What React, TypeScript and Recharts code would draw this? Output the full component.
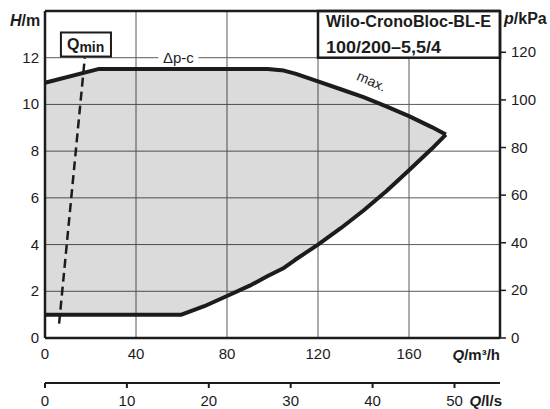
import React from "react";
import {
  ComposedChart,
  Area,
  XAxis,
  YAxis,
  CartesianGrid,
  ReferenceLine,
  ReferenceArea,
  ReferenceDot,
  Customized,
} from "recharts";

// pump field (Q in m³/h, H in m)
const flowM3h = [0, 23.8, 40, 60, 70, 80, 90, 97.9, 105, 110, 120, 130, 140, 150, 160, 170, 176.2];
const headMax = [10.93, 11.52, 11.52, 11.52, 11.52, 11.52, 11.52, 11.52, 11.45, 11.32, 10.99, 10.65, 10.31, 9.92, 9.5, 9.03, 8.71];
const headMin = [1, 1, 1, 1, 1.36, 1.8, 2.24, 2.65, 3.0, 3.35, 4.0, 4.7, 5.46, 6.28, 7.18, 8.1, 8.71];

// Qmin dashed line ends
const qminFlow = [6.2, 17.5];
const qminHead = [0.62, 12];

const headTicks = [0, 2, 4, 6, 8, 10, 12];
const flowTicks = [0, 40, 80, 120, 160];
const lsTicks = [0, 10, 20, 30, 40, 50];
const kpaTicks = [0, 20, 40, 60, 80, 100, 120];

const FONT = "'Liberation Sans', Arial, sans-serif";
const INK = "#1c1c1c";
const M3H_PER_LS = 3.6;

const data = flowM3h.map((q, i) => ({ q, range: [headMin[i], headMax[i]] }));

const LeftTick = (p: any) => (
  <text x={p.x} y={p.y} dy={5} textAnchor="end" fontSize={15} fill={INK} fontFamily={FONT}>
    {p.payload.value}
  </text>
);
const RightTick = (p: any) => (
  <text x={p.x} y={p.y} dy={5} textAnchor="start" fontSize={15} fill={INK} fontFamily={FONT}>
    {p.payload.value}
  </text>
);
const BottomTick = (p: any) => (
  <text x={p.x} y={p.y + 20.5} textAnchor="middle" fontSize={15} fill={INK} fontFamily={FONT}>
    {p.payload.value}
  </text>
);
// second flow scale in l/s
const LsTick = (p: any) => (
  <text x={p.x} y={p.y + 18} textAnchor="middle" fontSize={15} fill={INK} fontFamily={FONT}>
    {Math.round(p.payload.value / M3H_PER_LS)}
  </text>
);

const TitleBox = (p: any) => (
  <g>
    <rect x={p.x} y={p.y} width={p.width} height={p.height} fill="#fff" stroke={INK} strokeWidth={2.5} />
    <g fontSize={17} fontWeight="bold" fill={INK} fontFamily={FONT}>
      <text x={p.x + 8} y={p.y + 16} textLength={165} lengthAdjust="spacingAndGlyphs">
        Wilo-CronoBloc-BL-E
      </text>
      <text x={p.x + 8} y={p.y + 42} textLength={115} lengthAdjust="spacingAndGlyphs">
        100/200–5,5/4
      </text>
    </g>
  </g>
);

const QminBox = (p: any) => (
  <g>
    <rect x={p.x} y={p.y} width={p.width} height={p.height} fill="#fff" stroke={INK} strokeWidth={2} />
    <text x={p.x + 6} y={p.y + 18} fontSize={16} fontWeight="bold" fill={INK} fontFamily={FONT}>
      Q
      <tspan fontSize={14} dy={2}>min</tspan>
    </text>
  </g>
);

const DpcLabel = (p: any) => (
  <g>
    <rect x={p.cx - 20} y={p.cy - 8} width={40} height={16} fill="#fff" />
    <text x={p.cx} y={p.cy + 5} textAnchor="middle" fontSize={15} fill={INK} fontFamily={FONT}>
      Δp-c
    </text>
  </g>
);

const MaxLabel = (p: any) => (
  <text
    x={p.cx}
    y={p.cy}
    textAnchor="middle"
    fontSize={14}
    fill={INK}
    fontFamily={FONT}
    transform={`rotate(24 ${p.cx} ${p.cy})`}
  >
    max.
  </text>
);

const AxisTitles = () => (
  <g fontFamily={FONT} fontWeight="bold" fill={INK}>
    <text x={10} y={26} fontSize={16}>
      <tspan fontStyle="italic">H</tspan>/m
    </text>
    <text x={504} y={24} fontSize={16}>
      <tspan fontStyle="italic">p</tspan>/kPa
    </text>
    <text x={500} y={360} fontSize={15} textAnchor="end">
      <tspan fontStyle="italic">Q</tspan>/m³/h
    </text>
    <text x={502} y={406} fontSize={15} textAnchor="end">
      <tspan fontStyle="italic">Q</tspan>/l/s
    </text>
  </g>
);

export default function App() {
  return (
    <div style={{ position: "absolute", left: 0, top: 0, background: "#fff" }}>
      <ComposedChart
        width={550}
        height={409}
        data={data}
        margin={{ top: 11, right: 0, bottom: 0, left: 0 }}
      >
        <CartesianGrid stroke="#5a5a5a" strokeWidth={1} />
        <XAxis
          dataKey="q"
          type="number"
          domain={[0, 200]}
          ticks={flowTicks}
          height={45}
          tickLine={false}
          tickSize={0}
          tickMargin={0}
          axisLine={{ stroke: INK, strokeWidth: 2.5 }}
          tick={BottomTick}
        />
        <XAxis
          xAxisId="ls"
          dataKey="q"
          type="number"
          domain={[0, 200]}
          allowDataOverflow
          ticks={lsTicks.map((v) => v * M3H_PER_LS)}
          height={26}
          tickSize={5}
          tickMargin={0}
          tickLine={{ stroke: INK, strokeWidth: 2 }}
          axisLine={{ stroke: INK, strokeWidth: 2 }}
          tick={LsTick}
        />
        <YAxis
          type="number"
          domain={[0, 14]}
          ticks={headTicks}
          width={45}
          tickLine={false}
          tickSize={0}
          tickMargin={6}
          axisLine={{ stroke: INK, strokeWidth: 2.5 }}
          tick={LeftTick}
        />
        <YAxis
          yAxisId="kpa"
          orientation="right"
          type="number"
          domain={[0, 14 * 9.81]}
          allowDataOverflow
          ticks={kpaTicks}
          width={50}
          tickSize={6}
          tickMargin={5}
          tickLine={{ stroke: INK, strokeWidth: 1.5 }}
          axisLine={{ stroke: INK, strokeWidth: 2.5 }}
          tick={RightTick}
        />
        <Area
          type="linear"
          dataKey="range"
          stroke={INK}
          strokeWidth={4}
          strokeLinejoin="round"
          fill="#000"
          fillOpacity={0.14}
          isAnimationActive={false}
          dot={false}
          activeDot={false}
        />
        <ReferenceLine y={14} stroke={INK} strokeWidth={2.5} />
        <ReferenceLine
          segment={[
            { x: qminFlow[0], y: qminHead[0] },
            { x: qminFlow[1], y: qminHead[1] },
          ]}
          stroke={INK}
          strokeWidth={2.5}
          strokeDasharray="9 5"
        />
        <ReferenceArea x1={120} x2={200} y1={12} y2={14} shape={TitleBox} />
        <ReferenceArea x1={7} x2={29} y1={12.05} y2={13.08} shape={QminBox} />
        <ReferenceDot x={58.6} y={12} r={0} shape={DpcLabel} />
        <ReferenceDot x={142.7} y={10.8} r={0} shape={MaxLabel} />
        <Customized component={AxisTitles} />
      </ComposedChart>
    </div>
  );
}
